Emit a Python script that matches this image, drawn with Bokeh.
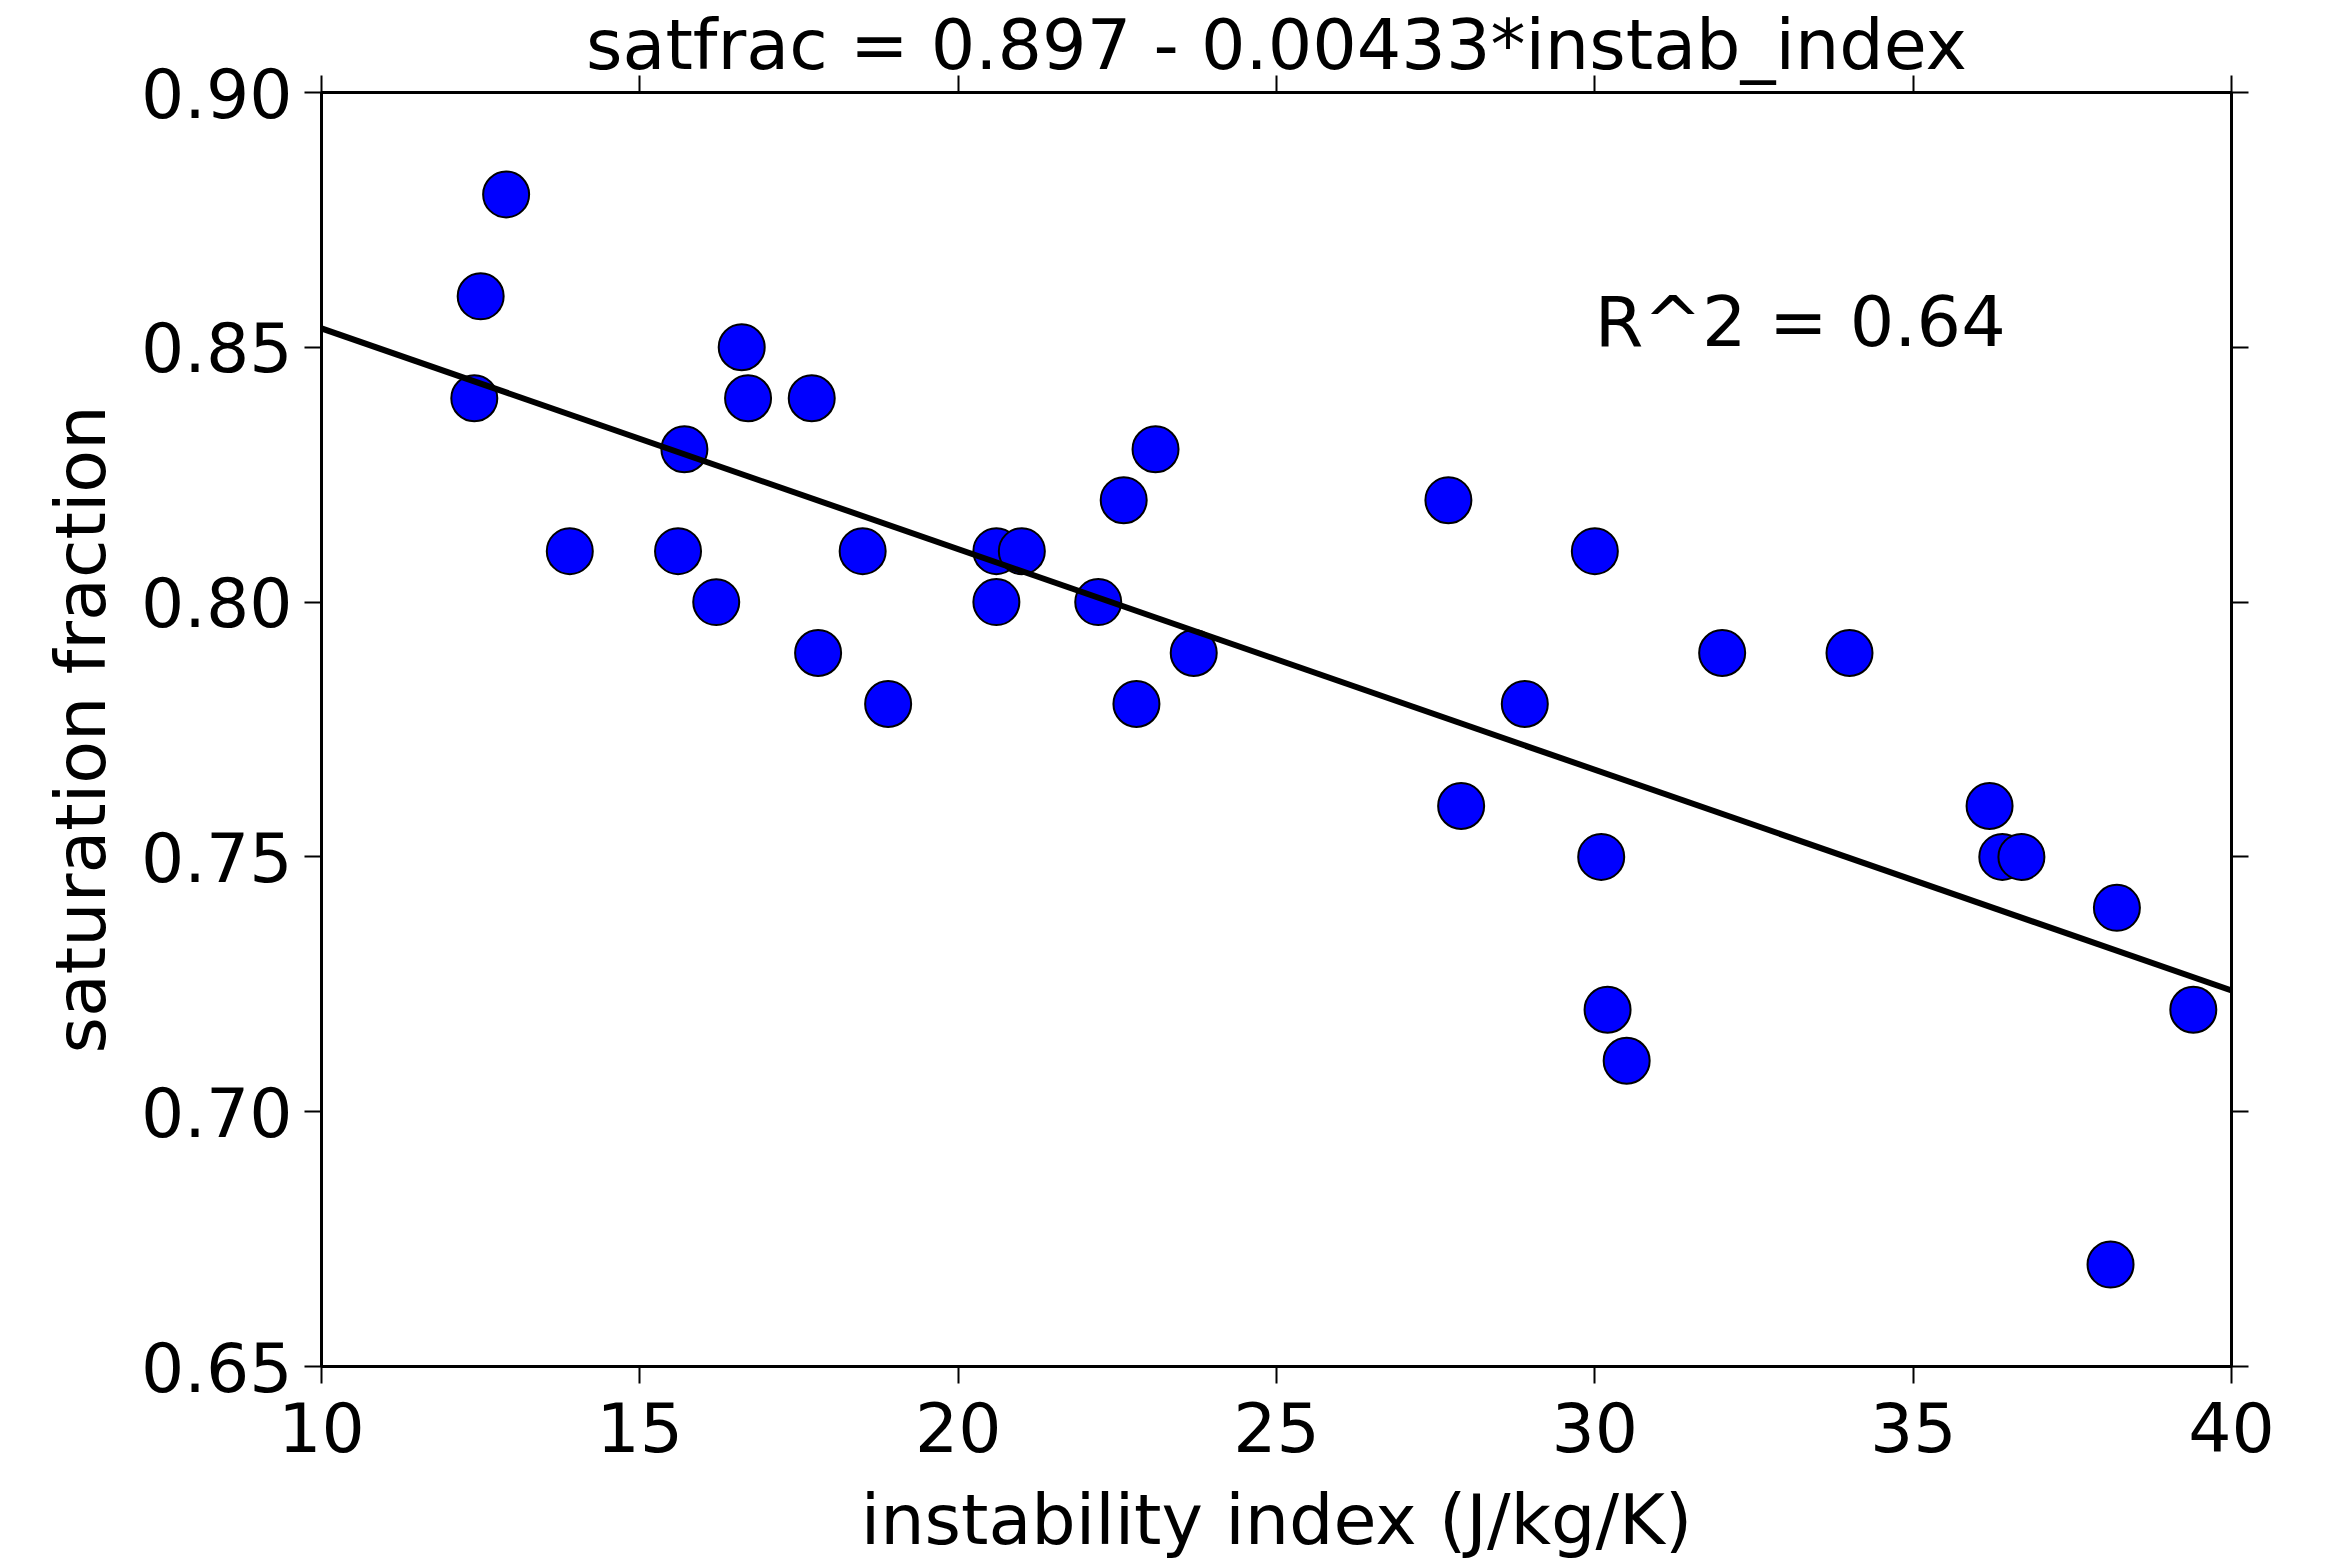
from bokeh.plotting import figure
from bokeh.models import LinearAxis, FixedTicker, PrintfTickFormatter, Range1d
from bokeh.embed import file_html
from bokeh.resources import INLINE
from bokeh.core.properties import value

# ---- data ----
instab_index = [12.9, 12.5, 12.4, 13.9, 15.7, 15.6, 16.2, 16.6, 16.7, 17.7,
                17.8, 18.5, 18.9, 20.6, 20.6, 21.0, 22.2, 22.6, 22.8, 23.1,
                23.7, 27.7, 27.9, 28.9, 30.0, 30.1, 30.2, 30.5, 32.0, 34.0,
                36.2, 36.4, 36.7, 38.2, 38.1, 39.4]
satfrac = [0.88, 0.86, 0.84, 0.81, 0.83, 0.81, 0.80, 0.85, 0.84, 0.84,
           0.79, 0.81, 0.78, 0.81, 0.80, 0.81, 0.80, 0.82, 0.78, 0.83,
           0.79, 0.82, 0.76, 0.78, 0.81, 0.75, 0.72, 0.71, 0.79, 0.79,
           0.76, 0.75, 0.75, 0.74, 0.67, 0.72]
x_ticks = [10, 15, 20, 25, 30, 35, 40]
y_ticks = [0.65, 0.70, 0.75, 0.80, 0.85, 0.90]
fit_intercept = 0.897
fit_slope = -0.00433
r_squared = 0.64
r2_pos = (30.0, 0.855)
fit_x = [10, 40]
fit_y = [fit_intercept + fit_slope * xv for xv in fit_x]

FONT = "DejaVu Sans"
FS = "70px"
TICK_FS = "68px"

p = figure(width=2323, height=1563,
           x_range=Range1d(10, 40), y_range=Range1d(0.65, 0.90),
           output_backend="svg", toolbar_location=None,
           min_border_left=321, min_border_right=92,
           min_border_top=92, min_border_bottom=197)

p.background_fill_color = "white"
p.border_fill_color = "white"
p.outline_line_color = "black"
p.outline_line_width = 3
p.grid.visible = False

p.title.text = "satfrac = %.3f - %.5f*instab_index" % (fit_intercept, -fit_slope)
p.title.align = "center"
p.title.text_font = FONT
p.title.text_font_size = FS
p.title.text_font_style = "normal"
p.title.text_color = "black"
p.title.standoff = -20

def style_axis(ax, show_labels=True):
    ax.axis_line_color = "black"
    ax.axis_line_width = 3
    ax.major_tick_line_color = "black"
    ax.major_tick_line_width = 2
    ax.major_tick_in = 0
    ax.major_tick_out = 17
    ax.minor_tick_line_color = None
    ax.major_label_text_font = FONT
    ax.axis_label_text_font = FONT
    ax.axis_label_text_font_size = FS
    ax.axis_label_text_font_style = "normal"
    ax.axis_label_text_color = "black"
    if show_labels:
        ax.major_label_text_font_size = TICK_FS
        ax.major_label_text_color = "black"
    else:
        ax.major_label_text_font_size = "1px"
        ax.major_label_text_color = None
        ax.major_label_standoff = 0

xa = p.xaxis[0]
xa.ticker = FixedTicker(ticks=x_ticks)
xa.axis_label = "instability index (J/kg/K)"
style_axis(xa)
xa.major_label_standoff = 18
xa.axis_label_standoff = 24

ya = p.yaxis[0]
ya.ticker = FixedTicker(ticks=y_ticks)
ya.formatter = PrintfTickFormatter(format="%.2f")
ya.axis_label = "saturation fraction"
style_axis(ya)
ya.major_label_standoff = 12
ya.axis_label_standoff = 16

top = LinearAxis(ticker=FixedTicker(ticks=x_ticks))
style_axis(top, show_labels=False)
p.add_layout(top, "above")

right = LinearAxis(ticker=FixedTicker(ticks=y_ticks))
style_axis(right, show_labels=False)
p.add_layout(right, "right")

p.scatter(instab_index, satfrac, size=46, fill_color="#0000ff",
          line_color="black", line_width=2)
p.line(fit_x, fit_y, line_color="black", line_width=6)

p.text(x=[r2_pos[0]], y=[r2_pos[1]], text=["R^2 = %.2f" % r_squared],
       text_font=value(FONT), text_font_size=FS, text_color="black",
       text_align="left", text_baseline="middle")

open("out.html", "w").write(file_html(p, INLINE))
